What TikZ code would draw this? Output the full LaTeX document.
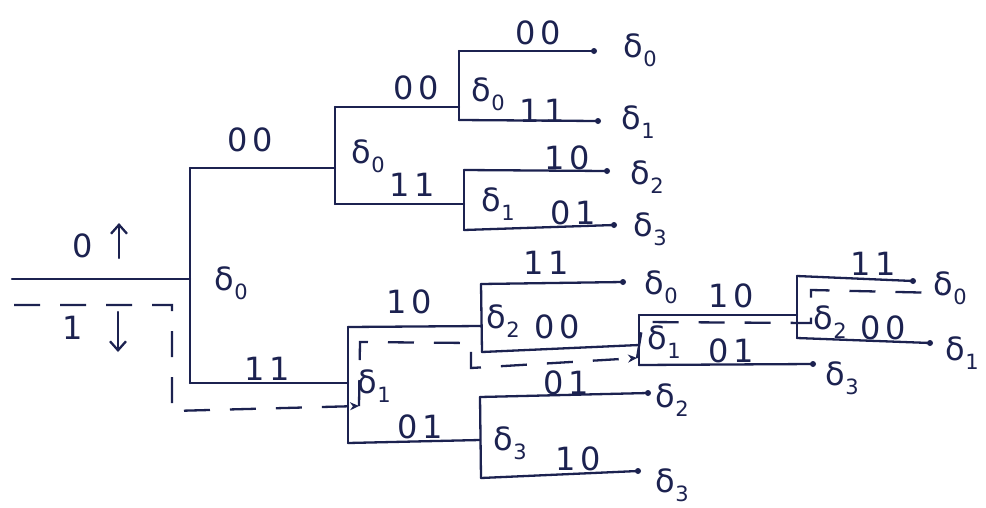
\documentclass[tikz,border=0pt]{standalone}
\usepackage{fontspec}
\newfontfamily\lblfont{DejaVu Sans}[LetterSpace=14]
\newfontfamily\gkfont{DejaVu Sans}
\newcommand{\stlbl}[1]{{\gkfont δ}\kern0.5pt\raisebox{-0.28em}{\gkfont\fontsize{21}{23}\selectfont #1}}
\usetikzlibrary{arrows.meta}
\definecolor{inkc}{HTML}{1C2250}
\begin{document}
\begin{tikzpicture}[x=1pt,y=-1pt,
  ink/.style={line width=2.3pt, draw=inkc, line cap=round, line join=round},
  surv/.style={line width=2.3pt, draw=inkc, dash pattern=on 26pt off 20pt},
  lbl/.style={text=inkc, font=\lblfont\fontsize{32}{36}\selectfont, inner sep=0pt},
  enddot/.style={circle, fill=inkc, inner sep=0pt, minimum size=6pt},
  tip/.style={-{Stealth[length=9pt,width=8pt]}}
]
\fill[white] (0,0) rectangle (986,507);
\useasboundingbox (0,0) rectangle (986,507);

% junction coordinates
\coordinate (in) at (12,279);
\coordinate (a) at (190,279);
\coordinate (at) at (190,168);
\coordinate (ab) at (190,383);
\coordinate (b) at (335,168);
\coordinate (bt) at (335,107);
\coordinate (bb) at (335,204);
\coordinate (c) at (459,107);
\coordinate (ct) at (459,51);
\coordinate (cb) at (459,120);
\coordinate (e1) at (594,51);
\coordinate (e2) at (598,121);
\coordinate (d) at (464,204);
\coordinate (dt) at (464,170);
\coordinate (db) at (464,230);
\coordinate (e3) at (607,171);
\coordinate (e4) at (614,225);
\coordinate (f) at (348,383);
\coordinate (ft) at (348,327);
\coordinate (fb) at (348,443);
\coordinate (g) at (481,326);
\coordinate (gt) at (481,284);
\coordinate (gb) at (482,352);
\coordinate (e5) at (623,282);
\coordinate (h) at (480,440);
\coordinate (ht) at (480,397);
\coordinate (hb) at (481,478);
\coordinate (e6) at (648,393);
\coordinate (e7) at (638,471);
\coordinate (i) at (639,345);
\coordinate (it) at (639,315);
\coordinate (ib) at (639,365);
\coordinate (e10) at (813,364);
\coordinate (j) at (797,315);
\coordinate (jt) at (797,276);
\coordinate (jb) at (797,338);
\coordinate (e8) at (913,281);
\coordinate (e9) at (930,343);

% tree lines
\draw[ink] (in) -- (a);
\draw[ink] (at) -- (ab);
\draw[ink] (at) -- (b);
\draw[ink] (bt) -- (bb);
\draw[ink] (bt) -- (c);
\draw[ink] (ct) -- (cb);
\draw[ink] (ct) -- (e1);
\draw[ink] (cb) -- (e2);
\draw[ink] (bb) -- (d);
\draw[ink] (dt) -- (db);
\draw[ink] (dt) -- (e3);
\draw[ink] (db) -- (e4);
\draw[ink] (ab) -- (f);
\draw[ink] (ft) -- (fb);
\draw[ink] (ft) -- (g);
\draw[ink] (gt) -- (gb);
\draw[ink] (gt) -- (e5);
\draw[ink] (gb) -- (i);
\draw[ink] (fb) -- (h);
\draw[ink] (ht) -- (hb);
\draw[ink] (ht) -- (e6);
\draw[ink] (hb) -- (e7);
\draw[ink] (it) -- (ib);
\draw[ink] (it) -- (j);
\draw[ink] (ib) -- (e10);
\draw[ink] (jt) -- (jb);
\draw[ink] (jt) -- (e8);
\draw[ink] (jb) -- (e9);

% end dots
\foreach \p in {e1,e2,e3,e4,e5,e6,e7,e8,e9,e10}
  \node[enddot] (dot\p) at (\p) {};

% survivor (dashed) path
\coordinate (s0) at (14,305);
\coordinate (s1) at (172,305);
\coordinate (s2) at (172,411);
\coordinate (s3) at (359,406);
\coordinate (s4) at (360,342);
\coordinate (s5) at (471,343);
\coordinate (s6) at (471,368);
\coordinate (s7) at (637,358);
\coordinate (s8) at (643,322);
\coordinate (s9) at (811,323);
\coordinate (s10) at (811,290);
\coordinate (s11) at (942,293);
\draw[surv,tip] (s0) -- (s1) -- (s2) -- (s3);
\draw[surv,tip] (s3) -- (s4) -- (s5) -- (s6) -- (s7);
\draw[surv] (s7) -- (s8) -- (s9) -- (s10) -- (s11);

% input arrows
\coordinate (up1) at (119,258);
\coordinate (up2) at (119,223);
\coordinate (dn1) at (118,312);
\coordinate (dn2) at (118,352);
\draw[ink,-{Straight Barb[length=9pt,width=16pt]}] (up1) -- (up2);
\draw[ink,-{Straight Barb[length=9pt,width=16pt]}] (dn1) -- (dn2);
\node[lbl] (in0) at (83,246) {0};
\node[lbl] (in1) at (73,328) {1};

% labels
\node[lbl] (la) at (231,283) {\stlbl{0}};
\node[lbl] (lat) at (250,140) {00};
\node[lbl] (lab) at (267,369) {11};
\node[lbl] (lb) at (368,156) {\stlbl{0}};
\node[lbl] (lbt) at (416,88) {00};
\node[lbl] (lbb) at (412,185) {11};
\node[lbl] (lc) at (488,94) {\stlbl{0}};
\node[lbl] (lct) at (538,33) {00};
\node[lbl] (lcb) at (542,111) {11};
\node[lbl] (le1) at (640,50) {\stlbl{0}};
\node[lbl] (le2) at (638,122) {\stlbl{1}};
\node[lbl] (ld) at (498,204) {\stlbl{1}};
\node[lbl] (ldt) at (567,158) {10};
\node[lbl] (ldb) at (573,213) {01};
\node[lbl] (le3) at (647,177) {\stlbl{2}};
\node[lbl] (le4) at (650,229) {\stlbl{3}};
\node[lbl] (lf) at (374,386) {\stlbl{1}};
\node[lbl] (lft) at (409,302) {10};
\node[lbl] (lfb) at (420,427) {01};
\node[lbl] (lg) at (503,321) {\stlbl{2}};
\node[lbl] (lgt) at (546,263) {11};
\node[lbl] (lgb) at (557,327) {00};
\node[lbl] (le5) at (661,287) {\stlbl{0}};
\node[lbl] (lh) at (510,443) {\stlbl{3}};
\node[lbl] (lht) at (566,383) {01};
\node[lbl] (lhb) at (578,459) {10};
\node[lbl] (le6) at (672,400) {\stlbl{2}};
\node[lbl] (le7) at (672,485) {\stlbl{3}};
\node[lbl] (li) at (664,342) {\stlbl{1}};
\node[lbl] (lit) at (731,296) {10};
\node[lbl] (lib) at (731,351) {01};
\node[lbl] (le10) at (842,378) {\stlbl{3}};
\node[lbl] (lj) at (830,322) {\stlbl{2}};
\node[lbl] (ljt) at (873,264) {11};
\node[lbl] (ljb) at (883,328) {00};
\node[lbl] (le8) at (950,288) {\stlbl{0}};
\node[lbl] (le9) at (962,353) {\stlbl{1}};
\end{tikzpicture}
\end{document}
